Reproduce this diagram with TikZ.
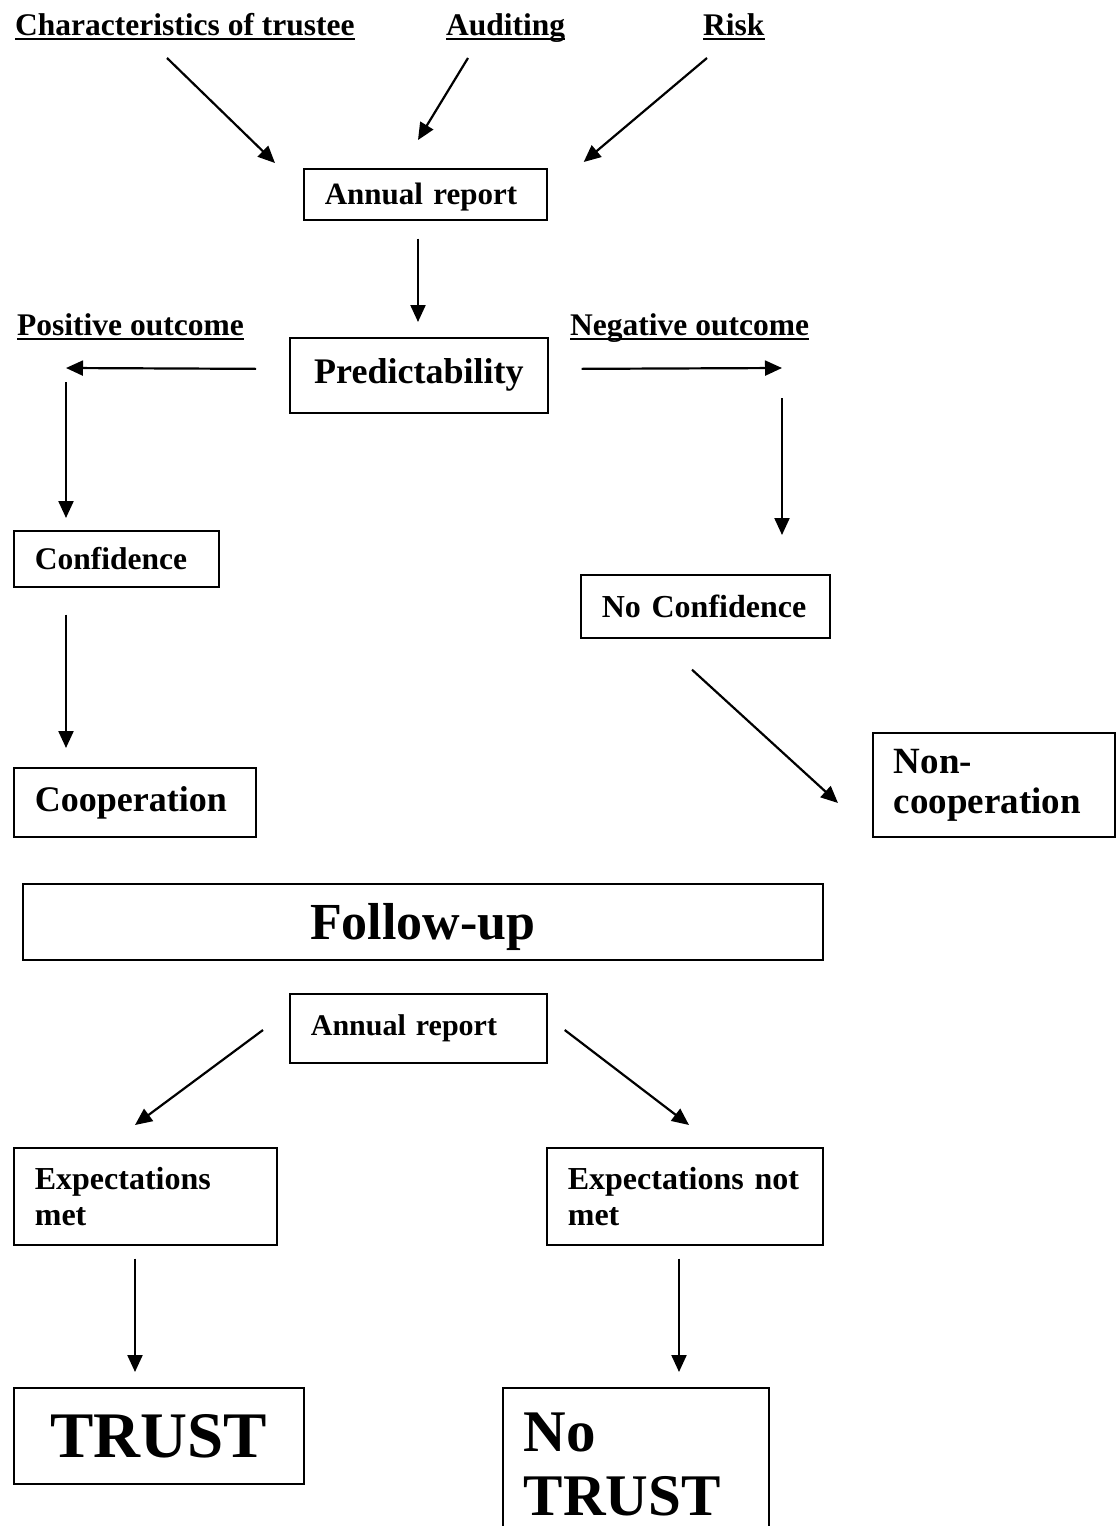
\documentclass[tikz,border=0pt]{standalone}
\usepackage{fontspec}
\setmainfont{Liberation Serif}
\usetikzlibrary{arrows.meta}
\begin{document}
\begin{tikzpicture}[x=1pt,y=-1pt,
  lab/.style={inner sep=0pt, anchor=base west, font=\fontsize{31.5}{36}\selectfont\bfseries},
  uline/.style={line width=1.8pt},
  box/.style={draw, line width=1.7pt, inner xsep=21pt, inner ysep=0pt, anchor=north west, align=left},
  cbox/.style={box, align=center},
  arr/.style={line width=2.2pt, -{Triangle[length=17pt,width=15pt]}}]
\useasboundingbox (0,0) rectangle (1117,1526);
\clip (0,0) rectangle (1117,1526);

% top labels
\node[lab] (char) at (15,35) {Characteristics of trustee};
\node[lab] (aud) at (446,35) {Auditing};
\node[lab] (risk) at (703,35) {Risk};
\foreach \n in {char,aud,risk}
  \draw[uline] ([yshift=-4pt]\n.base west) -- ([yshift=-4pt]\n.base east);

% annual report
\node[box, text width=201pt, minimum height=51pt, text depth=2pt, font=\fontsize{31}{36}\selectfont\bfseries] (ar) at (303,168) {Annual report};

\draw[arr] ([shift={(152,23)}]char.base west) -- ([shift={(-28,-5)}]ar.north west);
\draw[arr] ([shift={(22,23)}]aud.base west) -- ([shift={(115,-28)}]ar.north west);
\draw[arr] ([shift={(4,23)}]risk.base west) -- ([shift={(36,-6)}]ar.north east);

% predictability
\node[cbox, text width=216pt, minimum height=75pt, font=\fontsize{36}{40}\selectfont\bfseries] (pred) at (289,337) {Predictability};
\draw[arr] ([shift={(115,18)}]ar.south west) -- ([shift={(129,-15)}]pred.north west);

\node[lab] (pos) at (17,335) {Positive outcome};
\node[lab] (neg) at (570,335) {Negative outcome};
\foreach \n in {pos,neg}
  \draw[uline] ([yshift=-4pt]\n.base west) -- ([yshift=-4pt]\n.base east);

\coordinate (lc) at (66,368);
\coordinate (rc) at (782,368);
\draw[arr] ([shift={(-33,-6.5)}]pred.west) -- (lc);
\draw[arr] ([shift={(33,-6.5)}]pred.east) -- (rc);

% confidence branch
\node[box, text width=163pt, minimum height=56pt, font=\fontsize{31.5}{36}\selectfont\bfseries] (conf) at (13,530) {Confidence};
\node[box, text width=200pt, minimum height=69pt, font=\fontsize{36}{40}\selectfont\bfseries] (coop) at (13,767) {Cooperation};
\draw[arr] ([shift={(0,14)}]lc) -- ([shift={(53,-12)}]conf.north west);
\draw[arr] ([shift={(53,27)}]conf.south west) -- ([shift={(53,-19)}]coop.north west);

% no confidence branch
\node[box, text width=207pt, minimum height=63pt, font=\fontsize{32}{36}\selectfont\bfseries] (nconf) at (580,574) {No Confidence};
\node[box, text width=200pt, minimum height=104pt, font=\fontsize{37}{40}\selectfont\bfseries] (ncoop) at (872,732) {Non-\\cooperation};
\draw[arr] ([shift={(0,30)}]rc) -- ([shift={(202,-39)}]nconf.north west);
\draw[arr] ([shift={(112,31)}]nconf.south west) -- ([shift={(-34,71)}]ncoop.north west);

% follow-up
\node[cbox, text width=758pt, minimum height=76pt, text depth=0pt, font=\fontsize{52}{56}\selectfont\bfseries] (fu) at (22,883) {Follow-up};

\node[box, text width=215pt, minimum height=69pt, font=\fontsize{30}{34}\selectfont\bfseries] (ar2) at (289,993) {Annual report};

\node[box, text width=221pt, minimum height=97pt, font=\fontsize{32}{36}\selectfont\bfseries] (em) at (13,1147) {Expectations\\met};
\node[box, text width=234pt, minimum height=97pt, font=\fontsize{32}{36}\selectfont\bfseries] (enm) at (546,1147) {Expectations not\\met};
\draw[arr] ([shift={(-26,37)}]ar2.north west) -- ([shift={(122,-22)}]em.north west);
\draw[arr] ([shift={(17,37)}]ar2.north east) -- ([shift={(143,-22)}]enm.north west);

\node[cbox, text width=248pt, minimum height=96pt, font=\fontsize{65}{70}\selectfont\bfseries] (trust) at (13,1387) {TRUST};
\node[box, text width=224pt, minimum height=154pt, font=\fontsize{59}{64}\selectfont\bfseries] (ntrust) at (502,1387) {No\\TRUST};
\draw[arr] ([shift={(122,13)}]em.south west) -- ([shift={(122,-15)}]trust.north west);
\draw[arr] ([shift={(133,13)}]enm.south west) -- ([shift={(177,-15)}]ntrust.north west);
\end{tikzpicture}
\end{document}
